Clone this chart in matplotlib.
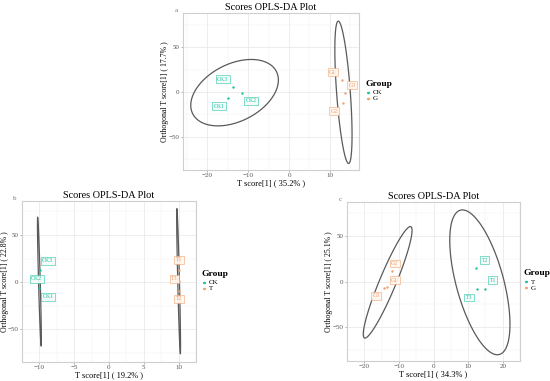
import numpy as np
import matplotlib
matplotlib.use("Agg")
import matplotlib.pyplot as plt
from matplotlib.patches import Polygon, Circle

plt.rcParams['font.family'] = ['Liberation Serif', 'DejaVu Serif']

teal = '#1dbf9f'
orange = '#f3a06a'

# panel a : CK vs G
a_groups = ['CK', 'G']
a_x = [[-13.7, -11.5, -15.0], [12.9, 13.7, 13.3]]
a_y = [[5.5, -0.7, -6.3], [13.0, -1.1, -12.6]]
a_labels = [['CK3', 'CK2', 'CK1'], ['G1', 'G3', 'G2']]
a_lab_x = [[-16.2, -9.3, -17.1], [10.7, 15.4, 11.0]]
a_lab_y = [[14.4, -9.6, -15.9], [21.9, 7.4, -21.4]]
# ellipse: centre x, centre y, x half-range, y half-range, correlation
a_ell = [[-13.3, -0.8, 10.7, 37.0, 0.38], [13.3, -0.4, 2.1, 79.3, -0.6]]
a_xticks = [-20, -10, 0, 10]
a_yticks = [-50, 0, 50]

# panel b : CK vs T
b_groups = ['CK', 'T']
b_x = [[-9.95, -10.0, -10.0], [10.0, 10.0, 10.0]]
b_y = [[12.9, 3.0, -6.5], [13.0, 1.0, -9.0]]
b_labels = [['CK3', 'CK2', 'CK1'], ['T1', 'T3', 'T2']]
b_lab_x = [[-8.8, -10.4, -8.8], [10.05, 9.4, 10.05]]
b_lab_y = [[22.8, 3.7, -15.7], [23.5, 3.7, -17.8]]
b_ell = [[-10.0, 0.5, 0.28, 68.3, -0.9], [10.0, 1.0, 0.28, 77.0, -0.9]]
b_xticks = [-10, -5, 0, 5, 10]
b_yticks = [-50, 0, 50]

# panel c : T vs G
c_groups = ['T', 'G']
c_x = [[12.2, 14.8, 12.7], [-11.9, -14.2, -13.5]]
c_y = [[14.7, -7.7, -8.4], [11.4, -6.6, -5.8]]
c_labels = [['T2', 'T1', 'T3'], ['G2', 'G1', 'G3']]
c_lab_x = [[14.8, 17.1, 10.3], [-11.2, -11.2, -16.5]]
c_lab_y = [[23.5, 1.5, -17.6], [19.8, 1.5, -15.7]]
c_ell = [[13.4, -0.9, 8.7, 79.6, -0.58], [-13.25, -0.9, 7.05, 61.3, 0.93]]
c_xticks = [-20, -10, 0, 10, 20]
c_yticks = [-50, 0, 50]

W, H = 550, 381
fig = plt.figure(figsize=(W / 100, H / 100), dpi=100)


def px_axes(left, top, right, bottom):
    return fig.add_axes([left / W, 1 - bottom / H, (right - left) / W, (bottom - top) / H])


def draw_panel(ax, groups, xs, ys, labels, lx, ly, ells, xticks, yticks,
               xlim, ylim, xlab, ylab, letter, leg_pos, ylab_x):
    cols = [teal, orange]
    t = np.linspace(0, 2 * np.pi, 300, endpoint=False)
    for k in range(2):
        cx, cy, rx, ry, rho = ells[k]
        phi = np.arccos(rho)
        pts = np.column_stack([cx + rx * np.cos(t), cy + ry * np.cos(t - phi)])
        ax.add_patch(Polygon(pts, closed=True, fill=False, ec='#5a5a5a', lw=0.9, zorder=2))
    for k in range(2):
        ax.scatter(xs[k], ys[k], s=3, color=cols[k], zorder=3, linewidths=0)
        for i in range(len(labels[k])):
            ax.text(lx[k][i], ly[k][i], labels[k][i], fontsize=4.2, color=cols[k],
                    ha='center', va='center', zorder=4,
                    bbox=dict(boxstyle='square,pad=0.25', fc='#f3fcf9' if k == 0 else '#fff6ef',
                              ec=cols[k], lw=0.4, alpha=0.95))
    ax.set_xlim(xlim)
    ax.set_ylim(ylim)
    ax.set_xticks(xticks)
    ax.set_yticks(yticks)
    step = xticks[1] - xticks[0]
    mx = [xticks[0] - step / 2] + [v + step / 2 for v in xticks]
    my = [-75, -25, 25, 75]
    ax.set_xticks(mx, minor=True)
    ax.set_yticks(my, minor=True)
    ax.grid(True, which='major', color='#e6e6e6', lw=0.5)
    ax.grid(True, which='minor', color='#f2f2f2', lw=0.35)
    ax.set_axisbelow(True)
    ax.tick_params(which='major', labelsize=5, labelcolor='#555555', color='#777777',
                   length=1.5, width=0.4, pad=1)
    ax.tick_params(which='minor', length=0)
    for s in ax.spines.values():
        s.set_color('#cfcfcf')
        s.set_linewidth(0.8)
    ax.set_xlabel(xlab, fontsize=6, labelpad=0.5)
    ax.set_ylabel(ylab, fontsize=5.6)
    ax.yaxis.label.set_va('center')
    ax.yaxis.set_label_coords(ylab_x, 0.5)
    ax.set_title('Scores OPLS-DA Plot', fontsize=7.4, pad=2)
    ax.text(-0.03, 1.0, letter, transform=ax.transAxes, fontsize=5, color='#777777',
            ha='right', va='bottom')
    # legend
    lxp, lyp = leg_pos
    fig.text(lxp / W, 1 - lyp / H, 'Group', fontsize=6.8, fontweight='bold', va='center')
    for k in range(2):
        yy = 1 - (lyp + 9 + k * 6) / H
        fig.text((lxp + 7) / W, yy, groups[k], fontsize=5, va='center')
        fig.patches.append(Circle(((lxp + 2.5) / W, yy), 0.8 / W,
                                  color=cols[k], transform=fig.transFigure))


ax_a = px_axes(183, 13, 359, 170)
draw_panel(ax_a, a_groups, a_x, a_y, a_labels, a_lab_x, a_lab_y, a_ell, a_xticks, a_yticks,
           (-25.9, 17.1), (-87, 88), 'T score[1] ( 35.2% )', 'Orthogonal T score[1] ( 17.7% )',
           'a', (366, 84), -0.1)

ax_b = px_axes(22, 201, 196, 362)
draw_panel(ax_b, b_groups, b_x, b_y, b_labels, b_lab_x, b_lab_y, b_ell, b_xticks, b_yticks,
           (-11.29, 11.07), (-84.7, 86), 'T score[1] ( 19.2% )', 'Orthogonal T score[1] ( 22.8% )',
           'b', (202, 274), -0.1)

ax_c = px_axes(347, 202, 520, 361)
draw_panel(ax_c, c_groups, c_x, c_y, c_labels, c_lab_x, c_lab_y, c_ell, c_xticks, c_yticks,
           (-22.5, 24.3), (-87.4, 87.4), 'T score[1] ( 34.3% )', 'Orthogonal T score[1] ( 25.1% )',
           'c', (524, 273), -0.103)

fig.savefig('out.png', dpi=100)
